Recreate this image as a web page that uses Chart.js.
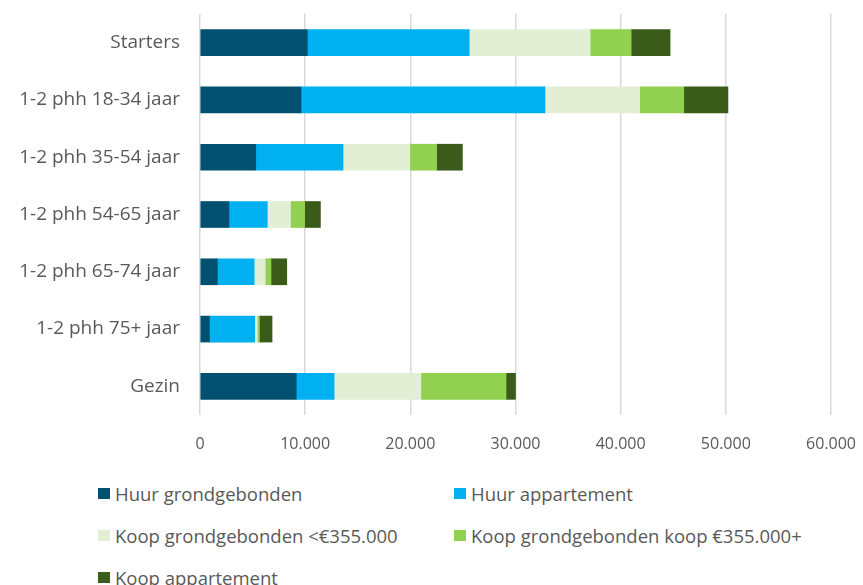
<!DOCTYPE html>
<html>
<head>
<meta charset="utf-8">
<script src="https://cdn.jsdelivr.net/npm/chart.js@4"></script>
<style>
  body { margin: 0; background: #fff; font-family: "Open Sans", sans-serif; }
  #wrap { position: relative; width: 863px; height: 585px; }
  #legend { position: absolute; left: 98px; top: 480px; width: 760px; }
  .item { position: absolute; display: flex; align-items: center; color: #595959; font-size: 18.5px; white-space: nowrap; height: 26px; }
  .box { width: 12px; height: 11px; margin-right: 5px; }
</style>
</head>
<body>
<div id="wrap">
  <canvas id="chart" width="863" height="462"></canvas>
  <div id="legend"></div>
</div>
<script>
// categories and series (number of households)
const categories = ['Starters', '1-2 phh 18-34 jaar', '1-2 phh 35-54 jaar', '1-2 phh 54-65 jaar',
  '1-2 phh 65-74 jaar', '1-2 phh 75+ jaar', 'Gezin'];
const huurGrond = [10200, 9600, 5300, 2750, 1650, 900, 9150];
const huurApp = [15400, 23200, 8300, 3650, 3500, 4300, 3600];
const koopGrondLaag = [11500, 9000, 6350, 2200, 1050, 250, 8250];
const koopGrondHoog = [3900, 4200, 2550, 1350, 550, 200, 8100];
const koopApp = [3700, 4200, 2450, 1500, 1500, 1200, 900];
const xTicks = [0, 10000, 20000, 30000, 40000, 50000, 60000];

const series = [
  { label: 'Huur grondgebonden', data: huurGrond, color: '#02506F' },
  { label: 'Huur appartement', data: huurApp, color: '#00B0F0' },
  { label: 'Koop grondgebonden <€355.000', data: koopGrondLaag, color: '#E2EFD4' },
  { label: 'Koop grondgebonden koop €355.000+', data: koopGrondHoog, color: '#92D050' },
  { label: 'Koop appartement', data: koopApp, color: '#3A5B1A' }
];

// Dutch thousands separator
const fmt = v => String(v).replace(/\B(?=(\d{3})+(?!\d))/g, '.');

// drop the automatic label padding so the plot area sits where we want it
const noPad = s => { s.paddingTop = 0; s.paddingBottom = 0; s.paddingLeft = 0; s.paddingRight = 0; };

new Chart(document.getElementById('chart'), {
  type: 'bar',
  data: {
    labels: categories,
    datasets: series.map(s => ({
      label: s.label,
      data: s.data,
      backgroundColor: s.color,
      borderWidth: 0,
      barThickness: 26
    }))
  },
  options: {
    indexAxis: 'y',
    responsive: false,
    animation: false,
    layout: { padding: { top: 14, right: 32, left: 0, bottom: 0 } },
    plugins: { legend: { display: false }, tooltip: { enabled: false } },
    scales: {
      x: {
        stacked: true,
        min: 0,
        max: 60000,
        afterBuildTicks: s => { s.ticks = xTicks.map(v => ({ value: v })); },
        afterFit: s => { s.height = 47; noPad(s); },
        grid: { color: '#D9D9D9', lineWidth: 1.5, drawTicks: false },
        border: { display: false },
        ticks: {
          padding: 20,
          maxRotation: 0,
          color: '#595959',
          font: { family: 'Open Sans', size: 16 },
          callback: v => fmt(v)
        }
      },
      y: {
        stacked: true,
        afterFit: s => { s.width = 200; noPad(s); },
        grid: { display: false, drawTicks: false },
        border: { display: false },
        ticks: {
          padding: 20,
          color: '#595959',
          font: { family: 'Open Sans', size: 19 }
        }
      }
    }
  }
});

// legend in two columns, like the original
const legend = document.getElementById('legend');
const colX = [0, 356];
series.forEach((s, i) => {
  const el = document.createElement('div');
  el.className = 'item';
  el.style.left = colX[i % 2] + 'px';
  el.style.top = (Math.floor(i / 2) * 42) + 'px';
  el.innerHTML = '<span class="box" style="background:' + s.color + '"></span>' + s.label;
  legend.appendChild(el);
});
</script>
</body>
</html>
